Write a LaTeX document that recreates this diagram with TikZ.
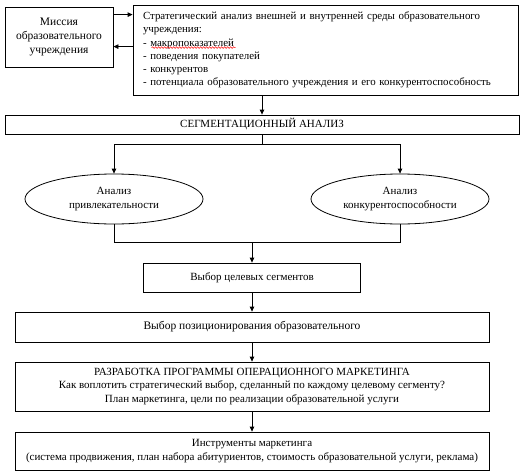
\documentclass[tikz,border=0pt]{standalone}
\usepackage{fontspec}
\setmainfont{Liberation Serif}
\usetikzlibrary{shapes.geometric,arrows.meta,calc,decorations.pathmorphing}
\begin{document}
\begin{tikzpicture}[x=1pt,y=-1pt,
  box/.style={draw,line width=0.8pt,inner sep=0pt,align=center,font=\fontsize{11}{13.5}\selectfont},
  oval/.style={draw,ellipse,line width=0.8pt,inner sep=0pt,align=center,font=\fontsize{11}{13.5}\selectfont},
  arr/.style={line width=0.8pt,-{Triangle[length=5pt,width=4.5pt]}},
  ln/.style={line width=0.8pt}]
\useasboundingbox (0,0) rectangle (521,474);
\node[box,minimum width=108pt,minimum height=60pt,font=\fontsize{11.5}{14}\selectfont] (mis) at (59,37) {Миссия\\образовательного\\учреждения};
\node[box,minimum width=385pt,minimum height=90pt,text width=365pt,align=left,font=\fontsize{10.9}{13.2}\selectfont] (str) at (325.5,50)
 {Стратегический анализ внешней и внутренней среды образовательного учреждения:\\
 - макропоказателей\\
 - поведения покупателей\\
 - конкурентов\\
 - потенциала образовательного учреждения и его конкурентоспособность};
\draw[red,line width=0.5pt,decorate,decoration={snake,amplitude=0.8pt,segment length=3pt}]
  ($(str.north west)+(19,43)$) -- ($(str.north west)+(103,43)$);
\node[box,minimum width=514pt,minimum height=19pt] (seg) at (262,124.5) {СЕГМЕНТАЦИОННЫЙ АНАЛИЗ};
\node[oval,minimum width=178pt,minimum height=50pt] (el1) at (114,199) {Анализ\\привлекательности};
\node[oval,minimum width=178pt,minimum height=50pt] (el2) at (400,199) {Анализ\\конкурентоспособности};
\node[box,minimum width=217pt,minimum height=29pt] (cel) at (252,277.5) {Выбор целевых сегментов};
\node[box,minimum width=474pt,minimum height=30pt,font=\fontsize{11.5}{14}\selectfont] (pos) at (252,327) {Выбор позиционирования образовательного};
\node[box,minimum width=474pt,minimum height=49pt] (raz) at (252,386.5)
 {РАЗРАБОТКА ПРОГРАММЫ ОПЕРАЦИОННОГО МАРКЕТИНГА\\Как воплотить стратегический выбор, сделанный по каждому целевому сегменту?\\План маркетинга, цели по реализации образовательной услуги};
\node[box,minimum width=474pt,minimum height=38pt] (ins) at (252,451)
 {Инструменты маркетинга\\(система продвижения, план набора абитуриентов, стоимость образовательной услуги, реклама)};
% connectors
\draw[arr] ([yshift=-8pt]mis.north east) -- ([yshift=-8pt]mis.north east -| str.west);
\draw[arr] ([yshift=-40pt]mis.north east -| str.west) -- ([yshift=-40pt]mis.north east);
\draw[arr] (seg.north |- str.south) -- (seg.north);
\coordinate (split) at ($(seg.south)+(0,10)$);
\draw[ln] (seg.south) -- (split);
\draw[arr] (split) -| (el1.north);
\draw[arr] (split) -| (el2.north);
\coordinate (join) at ($(el1.south)+(0,18)$);
\draw[ln] (el1.south) -- (join) -| (el2.south);
\draw[arr] (join -| cel.north) -- (cel.north);
\draw[arr] (cel.south) -- (cel.south |- pos.north);
\draw[arr] (pos.south) -- (raz.north);
\draw[arr] (raz.south) -- (ins.north);
\end{tikzpicture}
\end{document}
